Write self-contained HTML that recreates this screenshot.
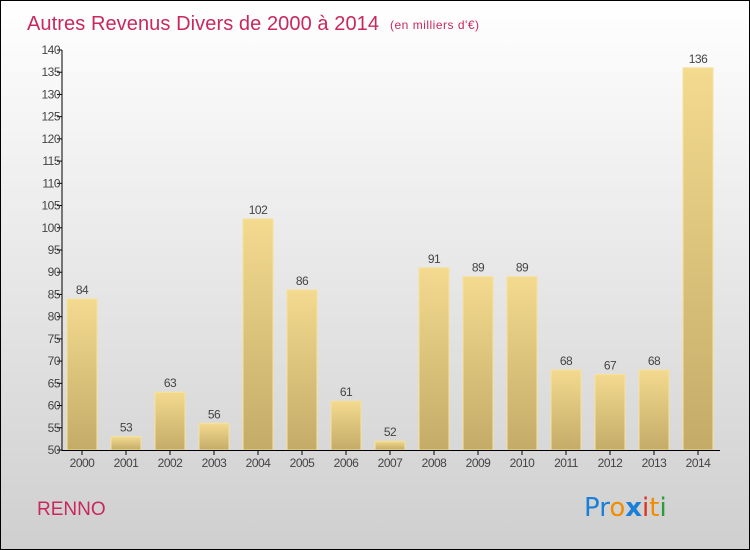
<!DOCTYPE html>
<html><head><meta charset="utf-8"><style>
body{margin:0}
#c{width:748px;height:548px;border:1px solid #000;background:linear-gradient(#fff,#cfcfcf);position:relative;overflow:hidden;font-family:"Liberation Sans",sans-serif}
</style></head><body>
<div id="c">
<svg id="s" width="748" height="548" font-family="'Liberation Sans',sans-serif">
<defs><linearGradient id="g" x1="0" y1="0" x2="0" y2="1"><stop offset="0" stop-color="#f3da8f"/><stop offset="1" stop-color="#c4ab68"/></linearGradient></defs>
<text x="26" y="29" font-size="20" fill="#c8285e" textLength="352">Autres Revenus Divers de 2000 à 2014</text>
<text x="389" y="28" font-size="12" fill="#c8285e" textLength="89">(en milliers d'€)</text>
<text x="36" y="514" font-size="19" fill="#c8285e">RENNO</text>
<g font-size="26" font-family="'DejaVu Sans',sans-serif"><text x="583" y="515"><tspan fill="#1a7fd6">Pr</tspan><tspan fill="#f28c00">o</tspan><tspan fill="#1a7fd6" font-weight="bold">x</tspan><tspan fill="#e0301e">i</tspan><tspan fill="#f28c00">t</tspan><tspan fill="#2c9b3a">i</tspan></text></g>
<g id="plot"></g>
</svg></div>
<script>
const categories=["2000","2001","2002","2003","2004","2005","2006","2007","2008","2009","2010","2011","2012","2013","2014"];
const values=[84,53,63,56,102,86,61,52,91,89,89,68,67,68,136];
const ticks=[50,55,60,65,70,75,80,85,90,95,100,105,110,115,120,125,130,135,140];
const NS="http://www.w3.org/2000/svg",p=document.getElementById('plot');
const y=v=>449-(v-50)*400/90, x=i=>81+i*44;
function mk(t,a,txt){const e=document.createElementNS(NS,t);for(const k in a)e.setAttribute(k,a[k]);if(txt!=null)e.textContent=txt;p.appendChild(e);return e;}
ticks.forEach(t=>{
 const l=mk('line',{x1:56,x2:61,y1:y(t),y2:y(t),stroke:'#000'});
 
 
 const tx=mk('text',{x:59,y:y(t)+4,'font-size':12,fill:'#444','text-anchor':'end','letter-spacing':'-0.5'},t);
 
 
});
values.forEach((v,i)=>{
 const r=mk('rect',{x:x(i)-15,y:y(v),width:30,height:y(50)-y(v),fill:'url(#g)',stroke:'#f6e29e','stroke-width':1});
 
 
 const lb=mk('text',{x:x(i),y:y(v)-5,'font-size':12,fill:'#444','text-anchor':'middle','letter-spacing':'-0.5'},v);
 
 
 const tk=mk('line',{x1:x(i),x2:x(i),y1:449,y2:454,stroke:'#000'});
 
 
 const xl=mk('text',{x:x(i),y:466,'font-size':12,fill:'#444','text-anchor':'middle','letter-spacing':'-0.5'},categories[i]);
 
 
});
const ya=mk('line',{x1:61,x2:61,y1:y(140),y2:450,stroke:'#000'});


const xa=mk('line',{x1:61,x2:719,y1:449.5,y2:449.5,stroke:'#000'});


</script>
</body></html>
